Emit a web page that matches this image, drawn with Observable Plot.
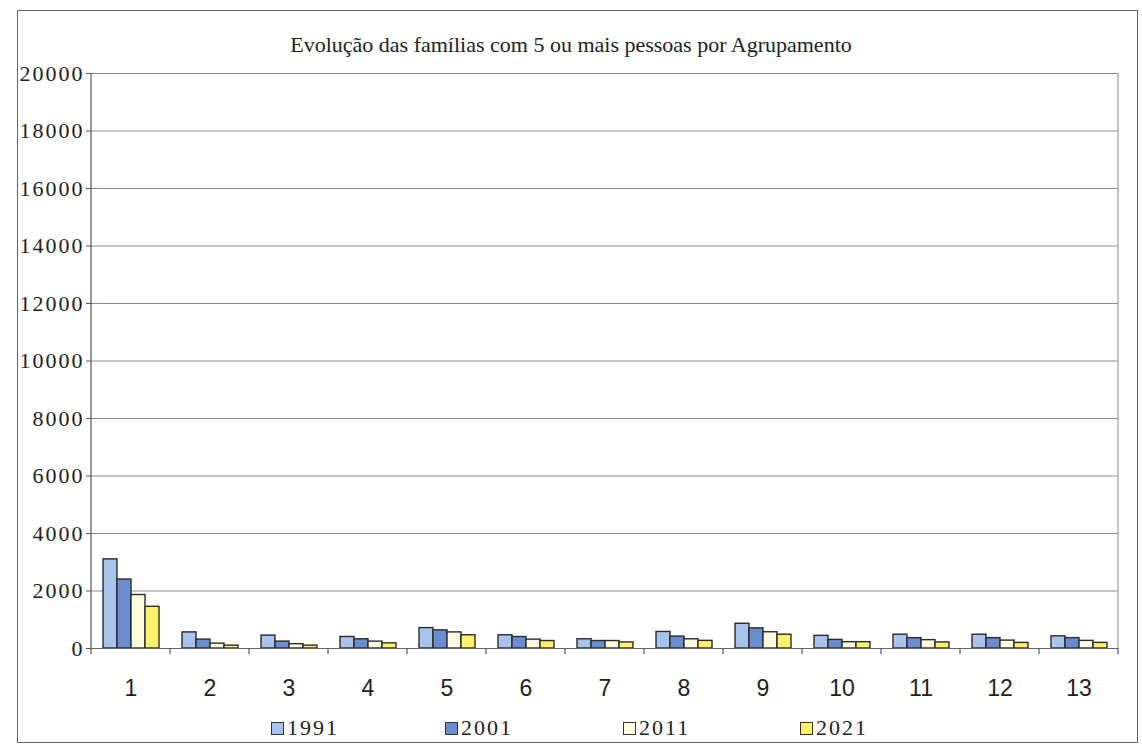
<!DOCTYPE html>
<html>
<head>
<meta charset="utf-8">
<script src="https://cdn.jsdelivr.net/npm/d3@7"></script>
<script src="https://cdn.jsdelivr.net/npm/@observablehq/plot@0.6"></script>
<style>
  html, body { margin: 0; padding: 0; background: #fff; }
  body { width: 1142px; height: 755px; position: relative; overflow: hidden; }
  #box { position: absolute; left: 17px; top: 10px; width: 1121px; height: 733px; border: 1.5px solid #666; box-sizing: border-box; }
  #title { position: absolute; left: 0; width: 1142px; top: 32px; text-align: center; font-family: "Liberation Serif", serif; font-size: 22px; color: #222; }
  #chart { position: absolute; left: 18px; top: 60px; }
  #legend { position: absolute; top: 715px; left: 0; width: 1142px; height: 26px; font-family: "Liberation Serif", serif; font-size: 22px; letter-spacing: 2px; color: #222; }
  .item { position: absolute; top: 0; display: flex; align-items: center; }
  .sw { width: 11px; height: 11px; border: 1.5px solid #333; margin-right: 3px; }
</style>
</head>
<body>
<div id="box"></div>
<div id="title">Evolução das famílias com 5 ou mais pessoas por Agrupamento</div>
<div id="chart"></div>
<div id="legend"></div>
<script>
const groups = ["1","2","3","4","5","6","7","8","9","10","11","12","13"];
const years = ["1991","2001","2011","2021"];
const v1991 = [3100, 560, 450, 400, 710, 460, 320, 575, 860, 440, 480, 480, 425];
const v2001 = [2400, 310, 240, 320, 630, 400, 260, 415, 700, 300, 360, 360, 360];
const v2011 = [1860, 170, 150, 240, 560, 310, 260, 320, 565, 220, 290, 275, 265];
const v2021 = [1450, 100, 100, 180, 460, 260, 210, 265, 480, 220, 210, 195, 195];
const yTicks = [0, 2000, 4000, 6000, 8000, 10000, 12000, 14000, 16000, 18000, 20000];
const colors = ["#a8c4ec", "#6a8dd2", "#fffce0", "#fdf26c"];

const series = [v1991, v2001, v2011, v2021];
const data = groups.flatMap((g, i) => years.map((y, j) => ({group: g, year: y, value: series[j][i]})));

const chart = Plot.plot({
  width: 1122, height: 643,
  marginLeft: 72, marginRight: 22, marginTop: 13, marginBottom: 55,
  style: {background: "transparent", color: "#222"},
  fx: {domain: groups, padding: 0, label: null},
  x: {domain: years, paddingInner: 0, paddingOuter: 0.72, axis: null},
  y: {domain: [0, 20000], label: null},
  color: {domain: years, range: colors},
  marks: [
    Plot.gridY(yTicks, {stroke: "#8c8c8c", strokeOpacity: 1, strokeWidth: 1}),
    Plot.barY(data, {fx: "group", x: "year", y: "value", fill: "year", stroke: "#2b2b2b", strokeWidth: 1.4}),
    Plot.ruleY([0], {stroke: "#666", strokeWidth: 1.2}),
    Plot.axisY(yTicks, {tickSize: 5, tickPadding: 2, label: null, tickFormat: d => String(d),
      fontFamily: "Liberation Serif", fontSize: 22, stroke: "#555"}),
    Plot.axisFx({anchor: "bottom", tickSize: 0, tickPadding: 31, label: null,
      fontFamily: "Liberation Sans", fontSize: 23})
  ]
});
document.getElementById("chart").appendChild(chart);

const fx = chart.scale("fx");
const y = chart.scale("y");
const svg = d3.select(chart);
svg.selectAll("g[aria-label='y-axis tick label'] text").style("letter-spacing", "2px");

// axis line, right border and category boundary ticks
const x0 = fx.apply(groups[0]);
const x1 = fx.apply(groups[groups.length - 1]) + fx.bandwidth;
const yb = y.apply(0), yt = y.apply(20000);
const g = svg.append("g").attr("stroke", "#555").attr("stroke-width", 1.2);
g.append("line").attr("x1", x0).attr("x2", x0).attr("y1", yt).attr("y2", yb);
g.append("line").attr("x1", x1).attr("x2", x1).attr("y1", yt).attr("y2", yb).attr("stroke", "#999");
[...groups.map(k => fx.apply(k)), x1].forEach(xx => {
  g.append("line").attr("x1", xx).attr("x2", xx).attr("y1", yb).attr("y2", yb + 6);
});

// legend
const legendLeft = [271, 445, 623, 800];
const legend = d3.select("#legend");
years.forEach((yr, i) => {
  const it = legend.append("div").attr("class", "item").style("left", legendLeft[i] + "px");
  it.append("div").attr("class", "sw").style("background", colors[i]);
  it.append("span").text(yr);
});
</script>
</body>
</html>
